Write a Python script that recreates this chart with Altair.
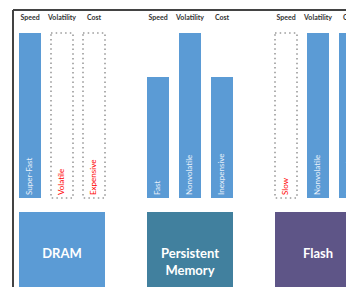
import altair as alt
import pandas as pd

# ---- data ----
tiers = ["DRAM", "Persistent\nMemory", "Flash"]
tier_colors = ["#5B9BD5", "#41809E", "#5E5587"]
attributes = ["Speed", "Volatility", "Cost"]
# bar level per tier (Speed, Volatility, Cost)
levels = [
    [3.0, 3.0, 3.0],   # DRAM
    [2.2, 3.0, 2.2],   # Persistent Memory
    [3.0, 3.0, 3.0],   # Flash
]
labels = [
    ["Super-Fast", "Volatile", "Expensive"],
    ["Fast", "Nonvolatile", "Inexpensive"],
    ["Slow", "Nonvolatile", "Inexpensive"],
]
favorable = [
    [True, False, False],
    [True, True, True],
    [False, True, True],
]

rows = []
for t, tier in enumerate(tiers):
    for a, attr in enumerate(attributes):
        rows.append({
            "tier": tier, "t": t, "attr": attr, "a": a,
            "level": levels[t][a], "label": labels[t][a],
            "good": favorable[t][a],
        })
df = pd.DataFrame(rows)
tier_df = pd.DataFrame({"tier": tiers, "t": list(range(len(tiers))), "color": tier_colors})

# ---- layout ----
W, H = 338, 279
slot_px = 32.0
first_center_px = 22.0
x_dom = [-first_center_px / slot_px, (W - first_center_px) / slot_px]
px_per_unit = 55.0
base_px = 190.0
y_dom = [-(H - base_px) / px_per_unit, base_px / px_per_unit]
half_bar = 11.0 / slot_px

xs = alt.Scale(domain=x_dom, nice=False, zero=False, padding=0)
ys = alt.Scale(domain=y_dom, nice=False, zero=False, padding=0)
FONT = "Lato"

base = alt.Chart(df).transform_calculate(slot="datum.t * 4 + datum.a", zero="0")
X = alt.X("slot:Q", scale=xs, axis=None)

good_bars = base.transform_filter("datum.good").mark_bar(size=22, color="#5B9BD5").encode(
    x=X, y=alt.Y("level:Q", scale=ys, axis=None), y2="zero:Q"
)
bad_boxes = base.transform_filter("!datum.good").mark_bar(
    size=22, fill="transparent", stroke="#9A9A9A", strokeWidth=1.6, strokeDash=[1.5, 3.2]
).encode(x=X, y=alt.Y("level:Q", scale=ys, axis=None), y2="zero:Q")

bar_text = base.mark_text(angle=270, align="left", baseline="middle", dx=3,
                          fontSize=8, font=FONT).encode(
    x=X, y=alt.Y("zero:Q", scale=ys, axis=None),
    text="label:N",
    color=alt.condition("datum.good", alt.value("#EAF1FA"), alt.value("#FF0000")),
)

headers = base.mark_text(fontSize=7, fontWeight="bold", font=FONT, color="#333333",
                         baseline="middle").encode(
    x=X, y=alt.value(10), text="attr:N"
)

tb = alt.Chart(tier_df).transform_calculate(
    x1=f"datum.t * 4 - {half_bar}", x2=f"datum.t * 4 + 2 + {half_bar}", xc="datum.t * 4 + 1",
    name="split(datum.tier, '\\n')"
)
boxes = tb.mark_rect().encode(
    x=alt.X("x1:Q", scale=xs, axis=None), x2="x2:Q",
    y=alt.value(204), y2=alt.value(H),
    color=alt.Color("color:N", scale=None),
)
box_text = tb.mark_text(fontSize=13, fontWeight="bold", font=FONT, color="white",
                        lineHeight=17, baseline="middle").encode(
    x=alt.X("xc:Q", scale=xs, axis=None), y=alt.value(246), text=alt.Text("name:N")
)

frame_top = alt.Chart(tier_df).mark_rule(color="#404040", strokeWidth=1.5).encode(
    x=alt.value(5), x2=alt.value(W), y=alt.value(2)
)
frame_left = alt.Chart(tier_df).mark_rule(color="#404040", strokeWidth=1.5).encode(
    x=alt.value(5), y=alt.value(2), y2=alt.value(H)
)

chart = alt.layer(
    frame_top, frame_left, good_bars, bad_boxes, bar_text, headers, boxes, box_text
).properties(
    width=W, height=H, padding=0, background="white",
    autosize=alt.AutoSizeParams(type="none"),
).configure_view(stroke=None)

chart.save("out.html", embed_options={"renderer": "svg", "actions": False})
